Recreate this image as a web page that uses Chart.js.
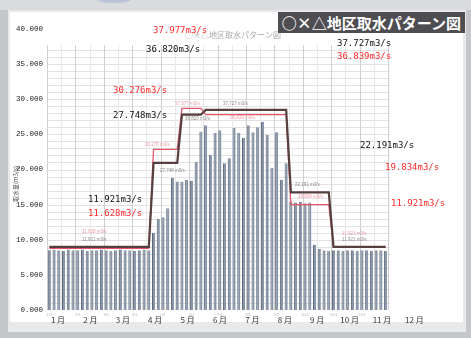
<!DOCTYPE html>
<html>
<head>
<meta charset="utf-8">
<script src="https://cdn.jsdelivr.net/npm/chart.js@4.4.0/dist/chart.umd.min.js"></script>
<style>
    html, body { margin: 0; padding: 0; width: 471px; height: 338px; overflow: hidden; background: #c4c6ca; }
    #topbar { position: absolute; left: 0; top: 0; width: 471px; height: 10px; background: #d9dbde; }
    #blob { position: absolute; left: 97px; top: -4px; width: 34px; height: 7px; border-radius: 50%; background: #b9c3da; }
    #outer { position: absolute; left: 8px; top: 10px; width: 458px; height: 322px; background: #e8e9eb; }
    #panel { position: absolute; left: 10px; top: 12px; width: 453px; height: 310px; background: #fff; }
    #title { position: absolute; left: 278px; top: 12px; width: 187px; height: 21px; background: #4d4d52; color: #fff;
             font: bold 15px 'Noto Sans CJK JP'; line-height: 21px; text-align: center; white-space: nowrap; }
    canvas { position: absolute; left: 0; top: 0; }
</style>
</head>
<body>
<div id="topbar"></div>
<div id="blob"></div>
<div id="outer"></div>
<div id="panel"></div>
<canvas id="chart" width="471" height="338"></canvas>
<div id="title">○×△地区取水パターン図</div>
<script>
// 半旬(5日)ごとの取水量 m3/s (1行 = 1か月)
const intake = [
    8.5, 8.6, 8.5, 8.4, 8.6, 8.5,
    8.5, 8.6, 8.4, 8.5, 8.5, 8.6,
    8.5, 8.4, 8.5, 8.6, 8.5, 8.5,
    8.4, 8.5, 8.6, 8.5, 11.0, 13.0,
    13.2, 14.5, 18.8, 18.3, 18.3, 18.5,
    18.4, 21.1, 25.4, 26.3, 22.1, 25.2,
    25.6, 20.9, 21.6, 25.9, 25.2, 24.5,
    26.3, 25.3, 26.0, 26.8, 24.9, 20.2,
    25.3, 18.5, 20.9, 15.4, 15.3, 15.4,
    15.2, 15.3, 9.3, 8.7, 8.5, 8.4,
    8.5, 8.5, 8.4, 8.5, 8.5, 8.4,
    8.5, 8.5, 8.4, 8.5, 8.5, 8.4
];

// 計画取水量 (黒線)
const planDark = [
    9.0, 9.0, 9.0, 9.0, 9.0, 9.0,
    9.0, 9.0, 9.0, 9.0, 9.0, 9.0,
    9.0, 9.0, 9.0, 9.0, 9.0, 9.0,
    9.0, 9.0, 9.0, 9.0, 20.95, 20.95,
    20.95, 20.95, 20.95, 20.95, 27.8, 27.8,
    27.8, 27.8, 27.8, 28.48, 28.48, 28.48,
    28.48, 28.48, 28.48, 28.48, 28.48, 28.48,
    28.48, 28.48, 28.48, 28.48, 28.48, 28.48,
    28.48, 28.48, 28.48, 16.75, 16.75, 16.75,
    16.75, 16.75, 16.75, 16.75, 16.75, 16.75,
    9.0, 9.0, 9.0, 9.0, 9.0, 9.0,
    9.0, 9.0, 9.0, 9.0, 9.0, 9.0
];

// 計画取水量 (赤線)
const planRed = [
    8.78, 8.78, 8.78, 8.78, 8.78, 8.78,
    8.78, 8.78, 8.78, 8.78, 8.78, 8.78,
    8.78, 8.78, 8.78, 8.78, 8.78, 8.78,
    8.78, 8.78, 8.78, 8.78, 22.86, 22.86,
    22.86, 22.86, 22.86, 22.86, 28.7, 28.7,
    28.7, 28.7, 28.7, 27.81, 27.81, 27.81,
    27.81, 27.81, 27.81, 27.81, 27.81, 27.81,
    27.81, 27.81, 27.81, 27.81, 27.81, 27.81,
    27.81, 27.81, 27.81, 15.0, 15.0, 15.0,
    15.0, 15.0, 15.0, 15.0, 15.0, 15.0,
    9.0, 9.0, 9.0, 9.0, 9.0, 9.0,
    9.0, 9.0, 9.0, 9.0, 9.0, 9.0
];

const months = ['1 月', '2 月', '3 月', '4 月', '5 月', '6 月', '7 月', '8 月', '9 月', '10 月', '11 月', '12 月'];
const innerTicks = ['1/1', '2/1', '3/1', '4/1', '5/1', '6/1', '7/1', '8/1', '9/1', '10/1', '11/1', '12/1'];
const periods = innerTicks.flatMap(m => [1, 2, 3, 4, 5, 6].map(k => `${m}-${k}`));
const perMonth = 6;

// 大きい注記 (黒 = 計画, 赤)
const notesBig = [
    ['37.977m3/s', 'red'], ['36.820m3/s', 'black'],
    ['30.276m3/s', 'red'], ['27.748m3/s', 'black'],
    ['37.727m3/s', 'black'], ['36.839m3/s', 'red'],
    ['22.191m3/s', 'black'], ['19.834m3/s', 'red'],
    ['11.921m3/s', 'red'], ['11.921m3/s', 'black'], ['11.628m3/s', 'red']
];
const notesBigPos = [[153, 31], [146, 50], [113, 91], [113, 116], [337, 44], [337, 57], [360, 146], [385, 168], [391, 204], [88, 200], [88, 214]];

// グラフ内の小さい注記
const notesSmall = [
    ['11,628 m3/s', 'red'], ['11,921 m3/s', 'black'],
    ['30,276 m3/s', 'red'], ['27,748 m3/s', 'black'],
    ['37,977 m3/s', 'red'], ['36,820 m3/s', 'black'],
    ['37,727 m3/s', 'black'], ['36,839 m3/s', 'red'],
    ['22,191 m3/s', 'black'], ['19,834 m3/s', 'red'],
    ['11,921 m3/s', 'red'], ['11,921 m3/s', 'black']
];
const notesSmallPos = [[82, 232], [82, 240], [145, 145], [160, 171], [175, 104], [185, 119], [223, 104], [230, 118], [295, 185], [298, 197], [342, 234], [342, 240]];

const colors = { red: '#ff2a2a', black: '#111111' };
const smallColors = { red: '#eb9aa6', black: '#8a8a8a' };

// 背景のグリッド
const gridPlugin = {
    id: 'grid',
    beforeDatasetsDraw(chart) {
        const { ctx, chartArea: a, scales: { y } } = chart;
        const top = y.getPixelForValue(37.7);
        const slot = (a.right - a.left) / periods.length;
        ctx.save();
        ctx.lineWidth = 1;
        ctx.strokeStyle = '#e2e2e2';
        for (let v = 1; v <= 37; v++) {
            const py = Math.round(y.getPixelForValue(v)) + 0.5;
            ctx.beginPath(); ctx.moveTo(a.left, py); ctx.lineTo(a.right + 2, py); ctx.stroke();
        }
        for (let i = 0; i <= periods.length; i += 3) {
            const px = Math.round(a.left + i * slot) + 0.5;
            ctx.strokeStyle = i % perMonth === 0 ? '#cfcfcf' : '#e8e8e8';
            ctx.beginPath(); ctx.moveTo(px, top); ctx.lineTo(px, a.bottom); ctx.stroke();
        }
        ctx.restore();
    }
};

// 文字の注記
const textPlugin = {
    id: 'texts',
    afterDraw(chart) {
        const { ctx, chartArea: a } = chart;
        ctx.save();
        // グラフ内タイトル
        ctx.font = "8px 'Noto Sans CJK JP'";
        ctx.fillStyle = '#a8a8a8';
        ctx.textAlign = 'center';
        ctx.textBaseline = 'middle';
        ctx.fillText('○×△地区取水パターン図', 233, 35);

        // 縦軸タイトル
        ctx.save();
        ctx.translate(16, 184);
        ctx.rotate(-Math.PI / 2);
        ctx.font = "6px 'Noto Sans CJK JP'";
        ctx.fillStyle = '#555';
        ctx.fillText('取水量(m3/s)', 0, 0);
        ctx.restore();

        // 小さい注記
        ctx.textAlign = 'left';
        ctx.font = "4.5px 'Liberation Sans'";
        notesSmall.forEach(([t, c], i) => {
            ctx.fillStyle = smallColors[c];
            ctx.fillText(t, notesSmallPos[i][0], notesSmallPos[i][1]);
        });

        // 大きい注記
        ctx.font = "9px 'DejaVu Sans Mono'";
        notesBig.forEach(([t, c], i) => {
            ctx.fillStyle = colors[c];
            ctx.fillText(t, notesBigPos[i][0], notesBigPos[i][1]);
        });

        // 月ラベル
        ctx.textAlign = 'center';
        ctx.font = "8px 'Noto Sans CJK JP'";
        ctx.fillStyle = '#333';
        const step = 32.4;
        months.forEach((m, i) => {
            ctx.fillText(m, a.left + 11 + i * step, 320);
        });
        ctx.restore();
    }
};

new Chart(document.getElementById('chart'), {
    type: 'bar',
    data: {
        labels: periods,
        datasets: [
            {
                type: 'line', label: '計画(赤)', data: planRed,
                borderColor: '#e4566a', borderWidth: 1.3, pointRadius: 0, tension: 0, order: 1
            },
            {
                type: 'line', label: '計画', data: planDark,
                borderColor: '#553f3f', borderWidth: 2.2, pointRadius: 0, tension: 0, order: 0
            },
            {
                label: '取水量', data: intake,
                backgroundColor: '#8996a8', borderColor: '#5d687a', borderWidth: { left: 1, right: 0, top: 0, bottom: 0 },
                barPercentage: 0.66, categoryPercentage: 1, order: 2
            }
        ]
    },
    options: {
        responsive: false,
        animation: false,
        devicePixelRatio: 1,
        layout: { padding: { left: 7, top: 29, right: 83, bottom: 0 } },
        plugins: { legend: { display: false }, tooltip: { enabled: false } },
        scales: {
            x: {
                grid: { display: false, drawTicks: false },
                border: { display: false },
                ticks: {
                    autoSkip: false, maxRotation: 0, minRotation: 0, padding: 2,
                    font: { size: 4 }, color: '#b5b5b5',
                    callback: (v, i) => i % perMonth === 0 ? innerTicks[i / perMonth] : ''
                },
                afterFit: s => { s.height = 28; }
            },
            y: {
                min: 0, max: 40,
                grid: { display: false, drawTicks: false },
                border: { display: false },
                ticks: {
                    stepSize: 5, padding: 4, color: '#222',
                    font: { family: "'Liberation Mono'", size: 7.5 },
                    callback: v => v.toFixed(3)
                },
                afterFit: s => { s.width = 40; }
            }
        }
    },
    plugins: [gridPlugin, textPlugin]
});
</script>
</body>
</html>
